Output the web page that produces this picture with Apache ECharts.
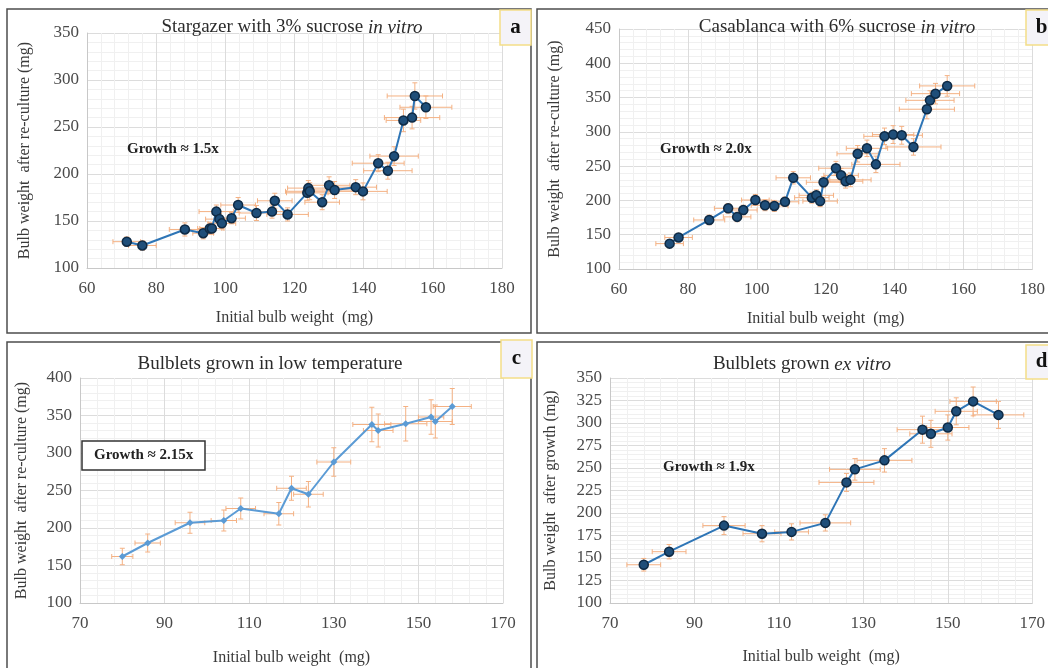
<!DOCTYPE html>
<html>
<head>
<meta charset="utf-8">
<script src="https://cdn.jsdelivr.net/npm/echarts@6/dist/echarts.min.js"></script>
<style>
html,body{margin:0;padding:0;background:#fff;}
#chart{width:1048px;height:668px;}
</style>
</head>
<body>
<div id="chart"></div>
<script>
// ---- Panel a: Stargazer with 3% sucrose in vitro ----
const aX = [71.5, 76, 88.3, 93.6, 95.5, 96.1, 97.4, 98.3, 99, 101.8, 103.7, 109, 113.5, 114.3, 118, 123.7, 124, 124.4, 128, 130, 131.6, 137.7, 139.8, 144.2, 147, 148.8, 151.5, 154, 154.8, 158];
const aY = [128, 124, 141, 137, 142, 142, 160, 152, 147.5, 153, 167, 158.5, 160, 171.5, 157, 180, 185, 181.6, 170, 188, 183, 186, 181.5, 211.5, 203.5, 219, 257, 260, 283, 271];
const aXErr = [4, 4, 4.5, 3, 3.5, 3.5, 5, 4, 4, 4, 5, 5, 4, 5, 6, 6, 6, 7, 5, 6, 6, 6, 7, 7.5, 7, 7, 5, 8, 8, 7.5];
const aYErr = [5, 5, 7, 6, 6, 6, 7, 6, 6, 6, 8, 8, 7, 8, 7, 8, 8, 9, 8, 9, 9, 8, 9, 9, 9, 10, 12, 12, 14, 12];

// ---- Panel b: Casablanca with 6% sucrose in vitro ----
const bX = [74.7, 77.3, 86.2, 91.7, 94.3, 96.1, 99.6, 102.4, 105.1, 108.2, 110.6, 116, 117.3, 118.4, 119.4, 123, 124.5, 125.8, 127.2, 129.3, 132, 134.6, 137.1, 139.6, 142.1, 145.5, 149.4, 150.3, 151.9, 155.3];
const bY = [137, 146, 171.5, 188.5, 176, 186, 200.6, 193, 192, 198, 233, 204, 207.5, 199, 226.5, 247, 236.6, 228, 230, 268, 276, 252.6, 293.5, 296, 295, 278, 333, 346, 355.7, 367];
const bXErr = [4, 4, 4.5, 4, 4, 4, 4, 4, 4, 4, 5, 5, 5, 5, 5, 5, 5, 5, 6, 6, 6, 7, 6, 6, 6, 8, 8, 7, 7, 8];
const bYErr = [6, 6, 7, 7, 7, 7, 8, 8, 8, 7, 9, 8, 8, 8, 8, 10, 10, 10, 10, 12, 12, 12, 12, 13, 13, 12, 14, 14, 15, 15];

// ---- Panel c: Bulblets grown in low temperature ----
const cX = [80, 86, 96, 104, 108, 117, 120, 124, 130, 139, 140.5, 147, 153, 154, 158];
const cY = [162, 180, 207, 210, 226, 219, 253, 245, 288, 338, 330, 339, 348, 342, 362];
const cXErr = [2.5, 3, 3.5, 3, 3.5, 3.5, 3.5, 3.5, 4, 4.5, 3.5, 5, 3, 4, 4.5];
const cYErr = [11, 12, 14, 14, 14, 15, 16, 17, 19, 23, 22, 23, 23, 22, 24];

// ---- Panel d: Bulblets grown ex vitro ----
const dX = [78, 84, 97, 106, 113, 121, 126, 128, 135, 144, 146, 150, 152, 156, 162];
const dY = [142.5, 157, 186, 177, 179, 189, 234, 248.5, 258.5, 292.6, 288, 295, 313, 324, 309];
const dXErr = [4, 4, 5, 4.5, 4, 6, 6.5, 6, 6.5, 6, 5, 5, 5, 5.5, 6];
const dYErr = [7, 8, 10, 9, 9, 9, 10, 12, 13, 15, 15, 14, 15, 16, 15];

const titles = [
  ['Stargazer with 3% sucrose ', 'in vitro'],
  ['Casablanca with 6% sucrose ', 'in vitro'],
  ['Bulblets grown in low temperature', ''],
  ['Bulblets grown ', 'ex vitro']
];
const growthLabels = ['Growth \u2248 1.5x', 'Growth \u2248 2.0x', 'Growth \u2248 2.15x', 'Growth \u2248 1.9x'];
const panelLetters = ['a', 'b', 'c', 'd'];
const xName = 'Initial bulb weight  (mg)';
const yNames = ['Bulb weight  after re-culture (mg)', 'Bulb weight  after re-culture (mg)', 'Bulb weight  after re-culture (mg)', 'Bulb weight  after growth (mg)'];
const axisRanges = [
  {xmin: 60, xmax: 180, xint: 20, ymin: 100, ymax: 350, yint: 50},
  {xmin: 60, xmax: 180, xint: 20, ymin: 100, ymax: 450, yint: 50},
  {xmin: 70, xmax: 170, xint: 20, ymin: 100, ymax: 400, yint: 50},
  {xmin: 70, xmax: 170, xint: 20, ymin: 100, ymax: 350, yint: 25}
];

const FONT = '"Liberation Serif", "Times New Roman", serif';
const panels = [
  {x: aX, y: aY, ex: aXErr, ey: aYErr},
  {x: bX, y: bY, ex: bXErr, ey: bYErr},
  {x: cX, y: cY, ex: cXErr, ey: cYErr},
  {x: dX, y: dY, ex: dXErr, ey: dYErr}
];

const grids = [
  {left: 87, top: 33, width: 415, height: 235},
  {left: 619, top: 29, width: 417, height: 240},
  {left: 80, top: 378, width: 423, height: 225},
  {left: 610, top: 378, width: 427, height: 225}
];
const yNameGap = [54, 56, 50, 51];
const xNameGap = [42, 42, 47, 46];

function errRender(params, api) {
  const x = api.value(0), y = api.value(1), ex = api.value(2), ey = api.value(3);
  const c = api.coord([x, y]);
  const l = api.coord([x - ex, y]), r = api.coord([x + ex, y]);
  const t = api.coord([x, y + ey]), b = api.coord([x, y - ey]);
  const cap = 2.5;
  const st = {stroke: '#F4B183', lineWidth: 1, fill: null};
  return {
    type: 'group',
    children: [
      {type: 'line', shape: {x1: l[0], y1: c[1], x2: r[0], y2: c[1]}, style: st},
      {type: 'line', shape: {x1: l[0], y1: c[1] - cap, x2: l[0], y2: c[1] + cap}, style: st},
      {type: 'line', shape: {x1: r[0], y1: c[1] - cap, x2: r[0], y2: c[1] + cap}, style: st},
      {type: 'line', shape: {x1: c[0], y1: t[1], x2: c[0], y2: b[1]}, style: st},
      {type: 'line', shape: {x1: c[0] - cap, y1: t[1], x2: c[0] + cap, y2: t[1]}, style: st},
      {type: 'line', shape: {x1: c[0] - cap, y1: b[1], x2: c[0] + cap, y2: b[1]}, style: st}
    ]
  };
}

const xAxes = [], yAxes = [], series = [], titleArr = [];
panels.forEach((p, i) => {
  const r = axisRanges[i];
  const common = {
    nameLocation: 'middle',
    nameTextStyle: {fontFamily: FONT, fontSize: 16, color: '#3a3a3a'},
    axisLabel: {fontFamily: FONT, fontSize: 17, color: '#4a4a4a'},
    axisTick: {show: false},
    axisLine: {show: true, lineStyle: {color: '#c8c8c8', width: 1}},
    splitLine: {show: true, lineStyle: {color: '#dcdcdc', width: 1}},
    minorTick: {show: false, splitNumber: 5},
    minorSplitLine: {show: true, lineStyle: {color: '#f0f0f0', width: 1}}
  };
  xAxes.push(Object.assign({}, common, {
    type: 'value', gridIndex: i, min: r.xmin, max: r.xmax, interval: r.xint,
    name: xName, nameGap: xNameGap[i],
    axisLabel: Object.assign({}, common.axisLabel, {margin: 12})
  }));
  yAxes.push(Object.assign({}, common, {
    type: 'value', gridIndex: i, min: r.ymin, max: r.ymax, interval: r.yint,
    name: yNames[i], nameGap: yNameGap[i],
    axisLabel: Object.assign({}, common.axisLabel, {margin: 8})
  }));
  const errData = p.x.map((v, k) => [v, p.y[k], p.ex[k], p.ey[k]]);
  const lineData = p.x.map((v, k) => [v, p.y[k]]);
  series.push({
    type: 'custom', xAxisIndex: i, yAxisIndex: i, renderItem: errRender,
    data: errData, z: 2, silent: true, clip: false
  });
  const isC = i === 2;
  series.push({
    type: 'line', xAxisIndex: i, yAxisIndex: i, data: lineData, z: 3,
    symbol: isC ? 'diamond' : 'circle',
    symbolSize: isC ? 7 : 9,
    showSymbol: true,
    lineStyle: {color: isC ? '#5B9BD5' : '#2E75B6', width: 2},
    itemStyle: isC ? {color: '#5B9BD5'} : {color: '#1F4E79', borderColor: '#0E2A45', borderWidth: 1.5},
    animation: false
  });
});

const titlePos = [
  {cx: 287, top: 13}, {cx: 832, top: 13}, {cx: 265, top: 350}, {cx: 797, top: 350}
];
titlePos.forEach((tp, i) => {
  const t = titles[i];
  titleArr.push({
    text: t[1] ? '{n|' + t[0] + '}{i|' + t[1] + '}' : '{n|' + t[0] + '}',
    left: tp.cx, top: tp.top, textAlign: 'center',
    textStyle: {
      fontWeight: 'normal',
      rich: {
        n: {fontFamily: FONT, fontSize: 19, fontWeight: 'normal', color: '#2b2b2b'},
        i: {fontFamily: FONT, fontSize: 19, fontWeight: 'normal', fontStyle: 'italic', color: '#2b2b2b'}
      }
    }
  });
});
// growth annotations
titleArr.push({text: growthLabels[0], left: 122, top: 137, textStyle: {fontFamily: FONT, fontSize: 15, fontWeight: 'bold', color: '#222'}});
titleArr.push({text: growthLabels[1], left: 655, top: 137, textStyle: {fontFamily: FONT, fontSize: 15, fontWeight: 'bold', color: '#222'}});
titleArr.push({text: growthLabels[2], left: 82, top: 441, padding: [7, 12, 7, 12], borderColor: '#333', borderWidth: 1.5, backgroundColor: '#fff', textStyle: {fontFamily: FONT, fontSize: 15, fontWeight: 'bold', color: '#222'}});
titleArr.push({text: growthLabels[3], left: 658, top: 455, textStyle: {fontFamily: FONT, fontSize: 15, fontWeight: 'bold', color: '#222'}});

const frameStyle = {stroke: '#4d4d4d', lineWidth: 1.5, fill: null};
const frames = [
  {x: 7, y: 9, width: 524, height: 324},
  {x: 537, y: 9, width: 520, height: 324},
  {x: 7, y: 342, width: 524, height: 340},
  {x: 537, y: 342, width: 520, height: 340}
];
const labelBoxes = [
  {x: 500, y: 10, width: 31, height: 35},
  {x: 1026, y: 10, width: 31, height: 35},
  {x: 501, y: 340, width: 31, height: 38},
  {x: 1026, y: 345, width: 31, height: 34}
];
const graphics = [];
frames.forEach(f => graphics.push({type: 'rect', shape: f, style: frameStyle, z: 100, silent: true}));
labelBoxes.forEach((b, i) => {
  graphics.push({type: 'rect', shape: b, style: {fill: '#f4f3f8', stroke: '#f3de88', lineWidth: 1.5}, z: 101, silent: true});
  graphics.push({type: 'text', x: b.x + b.width / 2, y: b.y + b.height / 2, z: 102, silent: true,
    style: {text: panelLetters[i], font: 'bold 21px ' + FONT, fill: '#111', textAlign: 'center', textVerticalAlign: 'middle'}});
});

const chart = echarts.init(document.getElementById('chart'), null, {renderer: 'canvas'});
chart.setOption({
  backgroundColor: '#ffffff',
  animation: false,
  title: titleArr,
  grid: grids,
  xAxis: xAxes,
  yAxis: yAxes,
  series: series,
  graphic: graphics
});
</script>
</body>
</html>
